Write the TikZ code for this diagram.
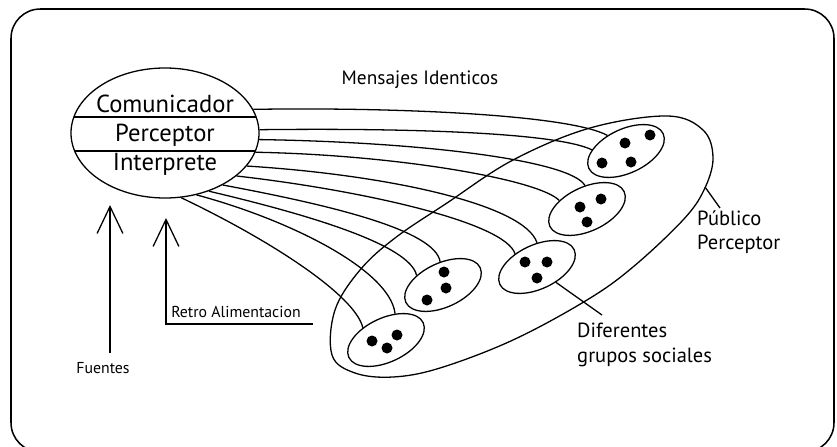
\documentclass[tikz,border=0pt]{standalone}
\usepackage{fontspec}
\setmainfont{PT Sans}
\usetikzlibrary{shapes.geometric,arrows.meta}
\begin{document}
\begin{tikzpicture}[x=0.03cm,y=-0.03cm,
  conn/.style={line width=1.1pt},
  grp/.style={draw, ellipse, line width=1.1pt, rotate=25, minimum width=2.46cm, minimum height=1.32cm, inner sep=0pt},
  mainlbl/.style={inner sep=0pt, font=\fontsize{21pt}{24pt}\selectfont},
  midlbl/.style={inner sep=0pt, font=\fontsize{17.5pt}{21pt}\selectfont, align=left, anchor=west},
  msglbl/.style={inner sep=0pt, font=\fontsize{16.5pt}{19pt}\selectfont},
  smalllbl/.style={inner sep=0pt, font=\fontsize{13.5pt}{16pt}\selectfont},
  uparrow/.style={line width=1.1pt, -{Straight Barb[length=23pt,width=22pt]}}
]
\useasboundingbox (0,0) rectangle (837,446);
\draw[line width=1.3pt, rounded corners=25pt] (11,9) rectangle (834,452);

% source ellipse
\node[draw, ellipse, line width=1.1pt, minimum width=5.64cm, minimum height=3.9cm, inner sep=0pt] (src) at (165,133) {};
\begin{scope}
  \clip (165,133) ellipse [x radius=94, y radius=65];
  \draw[conn] (60,117) -- (270,117);
  \draw[conn] (60,151) -- (270,151);
\end{scope}
\node[mainlbl] (com) at (165,104) {Comunicador};
\node[mainlbl] (per) at (165,135) {Perceptor};
\node[mainlbl] (int) at (165,164) {Interprete};

% big audience shape
\draw[conn] plot[smooth cycle, tension=0.6] coordinates {
 (335,310) (360,270) (395,238) (447,203) (513,160) (590,128) (667,116)
 (703,130) (713,158) (704,190) (683,220) (633,267) (587,300) (513,340)
 (440,368) (393,377) (355,373) (332,355)};
\coordinate (pubpt) at (705,187);

% groups
\node[grp] (gA) at (626,151) {};
\node[grp] (gB) at (587,209) {};
\node[grp] (gC) at (537,267) {};
\node[grp] (gD) at (443,285) {};
\node[grp] (gE) at (386,340) {};

% dots
\foreach \p in {(650,135),(625,143),(602,163),(631,162),
                (601,199),(580,207),(587,222),
                (525,262),(547,262),(537,278),
                (444,272),(446,288),(427,300),
                (372,341),(397,335),(387,348)}
  \fill \p circle [radius=5.5];

% messages
\draw[conn] (src.15)  .. controls (400,107) and (570,115) .. (gA.115);
\draw[conn] (src.2)   .. controls (400,128) and (555,132) .. (gA.153);
\draw[conn] (src.-4)  .. controls (420,142) and (570,160) .. (gB.70);
\draw[conn] (src.-12) .. controls (400,155) and (540,180) .. (gB.138);
\draw[conn] (src.-22) .. controls (390,175) and (525,205) .. (gC.65);
\draw[conn] (src.-31) .. controls (360,190) and (505,222) .. (gC.124);
\draw[conn] (src.-42) .. controls (330,205) and (435,230) .. (gD.72);
\draw[conn] (src.-53) .. controls (310,215) and (410,245) .. (gD.135);
\draw[conn] (src.-63) .. controls (290,220) and (390,270) .. (gE.46);
\draw[conn] (src.-76) .. controls (270,240) and (355,295) .. (gE.127);

% labels
\node[msglbl] (msg) at (420,80) {Mensajes Identicos};
\node[midlbl] (pub) at (697,232) {Público\\Perceptor};
\coordinate (pubend) at (720,208);
\draw[conn] (pubpt) -- (pubend);
\node[midlbl] (dif) at (577,345) {Diferentes\\grupos sociales};
\coordinate (difend) at (602,315);
\draw[conn] (gC.-64) -- (difend);

% feedback arrows
\node[smalllbl] (fue) at (103,368) {Fuentes};
\coordinate (fubase) at (110,353);
\coordinate (futip) at (110,205);
\draw[uparrow] (fubase) -- (futip);
\node[smalllbl] (ret) at (236,312) {Retro Alimentacion};
\coordinate (rtend) at (313,324);
\coordinate (rtcorner) at (166,324);
\coordinate (rttip) at (166,218);
\draw[uparrow] (rtend) -- (rtcorner) -- (rttip);
\end{tikzpicture}
\end{document}
